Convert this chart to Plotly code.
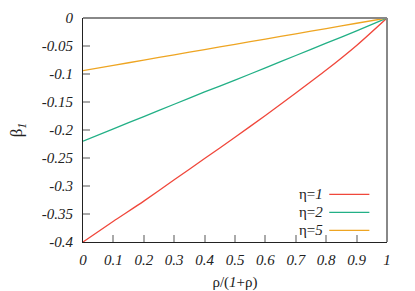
import plotly.graph_objects as go

x_vals = [0, 0.1, 0.2, 0.3, 0.4, 0.5, 0.6, 0.7, 0.8, 0.9, 1.0]
beta_eta1 = [-0.400, -0.363, -0.327, -0.289, -0.251, -0.213, -0.174, -0.134, -0.093, -0.049, 0.0]
beta_eta2 = [-0.220, -0.198, -0.176, -0.154, -0.132, -0.111, -0.089, -0.067, -0.045, -0.023, 0.0]
beta_eta5 = [-0.094, -0.0846, -0.0752, -0.0658, -0.0564, -0.047, -0.0376, -0.0282, -0.0188, -0.0094, 0.0]
series_names = ["η=<i>1</i>", "η=<i>2</i>", "η=<i>5</i>"]
series_colors = ["#f0473b", "#22b086", "#eea522"]

x_ticks = [0, 0.1, 0.2, 0.3, 0.4, 0.5, 0.6, 0.7, 0.8, 0.9, 1]
x_ticktext = ["0", "0.1", "0.2", "0.3", "0.4", "0.5", "0.6", "0.7", "0.8", "0.9", "1"]
y_ticks = [0, -0.05, -0.1, -0.15, -0.2, -0.25, -0.3, -0.35, -0.4]
y_ticktext = ["0", "-0.05", "-0.1", "-0.15", "-0.2", "-0.25", "-0.3", "-0.35", "-0.4"]

SERIF = "Liberation Serif, Times New Roman, DejaVu Serif, serif"
tick_font = dict(family=SERIF, size=15, color="#222", style="italic")
title_font = dict(family=SERIF, size=15, color="#222")

fig = go.Figure()
for ys, name, col in zip([beta_eta1, beta_eta2, beta_eta5], series_names, series_colors):
    fig.add_trace(go.Scatter(x=x_vals, y=ys, mode="lines", name=name,
                             line=dict(color=col, width=1.3, shape="spline", smoothing=0.6),
                             showlegend=False, hoverinfo="skip"))

# manual legend (text left of line sample, as in the reference)
legend_rows = [0.213, 0.132, 0.052]
for name, col, yr in zip(series_names, series_colors, legend_rows):
    fig.add_annotation(xref="paper", yref="paper", x=0.795, y=yr, text=name,
                       showarrow=False, xanchor="right", yanchor="middle", font=title_font)
    fig.add_shape(type="line", xref="paper", yref="paper", x0=0.81, x1=0.942, y0=yr, y1=yr,
                  line=dict(color=col, width=1.3))

# top and right borders (gray)
fig.add_shape(type="line", xref="paper", yref="paper", x0=0, x1=1, y0=1, y1=1,
              line=dict(color="#888", width=2))
fig.add_shape(type="line", xref="paper", yref="paper", x0=1, x1=1, y0=0, y1=1,
              line=dict(color="#888", width=2))

fig.update_layout(
    width=415, height=291,
    margin=dict(l=83, r=28, t=18, b=49),
    paper_bgcolor="white", plot_bgcolor="white",
    font=dict(family=SERIF),
    xaxis=dict(range=[0, 1], tickvals=x_ticks, ticktext=x_ticktext, showgrid=False, zeroline=False,
               automargin=False,
               showline=True, linecolor="#222", linewidth=1.2, ticks="inside", ticklen=7,
               tickcolor="#aaa", tickwidth=1.5, tickfont=tick_font, ticklabelstandoff=4,
               title=dict(text="ρ/(<i>1</i>+ρ)", font=title_font, standoff=12)),
    yaxis=dict(range=[-0.4, 0], tickvals=y_ticks, ticktext=y_ticktext, showgrid=False, zeroline=False,
               automargin=False,
               showline=True, linecolor="#222", linewidth=1.2, ticks="inside", ticklen=7,
               tickcolor="#aaa", tickwidth=1.5, tickfont=tick_font, ticklabelstandoff=6,
               title=dict(text="β<sub><i>1</i></sub>", font=dict(family=SERIF, size=17, color="#222"), standoff=14)),
)

fig.write_html("out.html", config={"displayModeBar": False},
               post_script="document.body.style.margin='0';document.body.style.padding='0';")
